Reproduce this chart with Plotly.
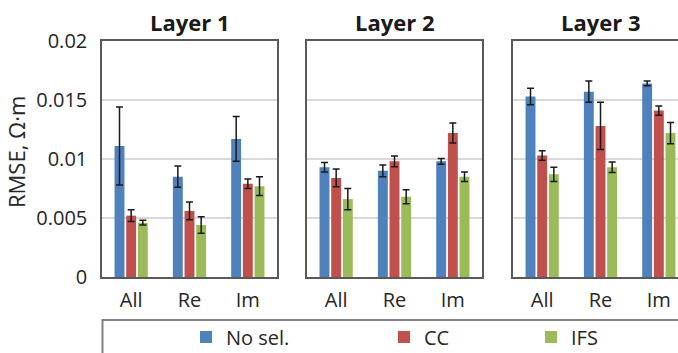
import plotly.graph_objects as go

categories = ["All", "Re", "Im"]
layers = ["Layer 1", "Layer 2", "Layer 3"]
series_names = ["No sel.", "CC", "IFS"]
colors = ["#4F81BD", "#C0504D", "#9BBB59"]

nosel = [[0.0111, 0.0085, 0.0117], [0.0093, 0.0090, 0.0098], [0.0153, 0.0157, 0.0164]]
nosel_err = [[0.0033, 0.0009, 0.0019], [0.0004, 0.0005, 0.00025], [0.0007, 0.0009, 0.0002]]
cc = [[0.0052, 0.0056, 0.0079], [0.0084, 0.0098, 0.0122], [0.0103, 0.0128, 0.0141]]
cc_err = [[0.0005, 0.00075, 0.0004], [0.00075, 0.00045, 0.00085], [0.0004, 0.0020, 0.0004]]
ifs = [[0.0046, 0.0044, 0.0077], [0.0066, 0.0068, 0.0085], [0.0087, 0.0093, 0.0122]]
ifs_err = [[0.0002, 0.0007, 0.0008], [0.0009, 0.0006, 0.0004], [0.0006, 0.00045, 0.0009]]

y_ticks = [0, 0.005, 0.01, 0.015, 0.02]
y_ticktext = ["0", "0.005", "0.01", "0.015", "0.02"]

W, H = 678, 353
FONT = "Open Sans"
values = [nosel, cc, ifs]
errors = [nosel_err, cc_err, ifs_err]
legend_ids = ["legend", "legend2", "legend3"]

fig = go.Figure()
for p in range(3):
    xa = "x" if p == 0 else f"x{p+1}"
    ya = "y" if p == 0 else f"y{p+1}"
    for s in range(3):
        fig.add_trace(go.Bar(
            x=categories, y=values[s][p], name=series_names[s],
            marker=dict(color=colors[s], line=dict(width=0)),
            error_y=dict(type="data", array=errors[s][p], color="#1a1a1a",
                         thickness=1.5, width=3.5),
            xaxis=xa, yaxis=ya,
            showlegend=(p == 0), legend=legend_ids[s],
        ))

def px_x(v):
    return v / W

def px_y(v):
    return 1 - v / H

doms = [(102, 277), (307, 482), (513, 678)]
y_dom = [px_y(277), px_y(41)]
cat_w = 175 / 3.0

layout = dict(
    width=W, height=H,
    margin=dict(l=0, r=0, t=0, b=0, autoexpand=False),
    paper_bgcolor="white", plot_bgcolor="white",
    barmode="group", bargap=0.4, bargroupgap=0.15,
    font=dict(family=FONT, size=20, color="#262626"),
    showlegend=True,
)
for p in range(3):
    sx = "xaxis" if p == 0 else f"xaxis{p+1}"
    sy = "yaxis" if p == 0 else f"yaxis{p+1}"
    x0, x1 = doms[p]
    rng_end = -0.5 + (x1 - x0) / cat_w
    layout[sx] = dict(
        domain=[px_x(x0), px_x(x1)], anchor="y" if p == 0 else f"y{p+1}",
        type="category", range=[-0.5, rng_end],
        showline=True, mirror=True, linecolor="#595959", linewidth=1.5,
        ticks="outside", ticklen=4, tickcolor="rgba(0,0,0,0)",
        tickfont=dict(size=20, color="#262626"), showgrid=False, fixedrange=True,
        automargin=False,
    )
    layout[sy] = dict(
        domain=y_dom, anchor="x" if p == 0 else f"x{p+1}",
        range=[0, 0.02], tickvals=y_ticks, ticktext=y_ticktext,
        showticklabels=(p == 0),
        showline=True, mirror=(p != 2), linecolor="#595959", linewidth=1.5,
        showgrid=True, gridcolor="#D9D9D9", gridwidth=1.5,
        zeroline=False,
        ticks="outside" if p == 0 else "", ticklen=9, tickcolor="rgba(0,0,0,0)",
        tickfont=dict(size=20, color="#262626"), fixedrange=True,
        automargin=False,
    )

legend_x = [186, 384, 531]
for s in range(3):
    layout[legend_ids[s]] = dict(
        xref="container", yref="container",
        x=px_x(legend_x[s]), xanchor="left", y=px_y(337), yanchor="middle",
        orientation="h", bgcolor="rgba(0,0,0,0)", borderwidth=0,
        font=dict(size=20, color="#262626"),
    )

fig.update_layout(**layout)

title_centers = [189.5, 394.5, 600.5]
for p in range(3):
    fig.add_annotation(
        text=f"<b>{layers[p]}</b>", x=px_x(title_centers[p]), y=px_y(22),
        xref="paper", yref="paper", xanchor="center", yanchor="middle",
        showarrow=False, font=dict(size=22, color="#1a1a1a", family=FONT),
    )

fig.add_annotation(
    text="RMSE, Ω·m", x=px_x(16), y=px_y(152), xref="paper", yref="paper",
    xanchor="center", yanchor="middle", textangle=-90, showarrow=False,
    font=dict(size=22, color="#262626", family=FONT),
)

fig.add_shape(
    type="rect", xref="paper", yref="paper",
    x0=px_x(102.5), x1=1.1, y0=-0.2, y1=px_y(320),
    line=dict(color="#808080", width=2), fillcolor="rgba(0,0,0,0)", layer="below",
)

fig.write_html(
    "out.html",
    config={"displayModeBar": False},
    post_script="document.body.style.margin='0';document.body.style.overflow='hidden';",
)
